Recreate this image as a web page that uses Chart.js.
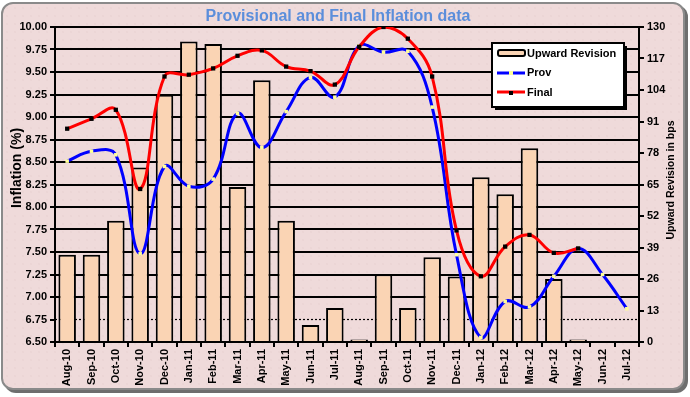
<!DOCTYPE html>
<html>
<head>
<meta charset="utf-8">
<script src="https://cdn.jsdelivr.net/npm/chart.js@4/dist/chart.umd.min.js"></script>
<style>
  html, body { margin: 0; padding: 0; background: #ffffff; }
  #wrap { position: relative; width: 690px; height: 397px; overflow: hidden; }
  #frame {
    position: absolute; left: 1px; top: 2px; width: 680px; height: 384px;
    border: 2px solid #8a8a8a; border-radius: 12px;
    background-color: #efdada;
    background-image: radial-gradient(circle, #e4cdcd 0.5px, rgba(0,0,0,0) 0.8px);
    background-size: 8px 8px;
    box-shadow: 3px 3px 0 #6e6e6e;
  }
  canvas { position: absolute; left: 0; top: 0; }
</style>
</head>
<body>
<div id="wrap">
  <div id="frame"></div>
  <canvas id="c" width="690" height="397"></canvas>
</div>
<script>
const chartTitle = 'Provisional and Final Inflation data';
const leftAxisTitle = 'Inflation (%)';
const rightAxisTitle = 'Upward Revision in bps';

const months = ['Aug-10','Sep-10','Oct-10','Nov-10','Dec-10','Jan-11','Feb-11','Mar-11','Apr-11','May-11','Jun-11','Jul-11',
                'Aug-11','Sep-11','Oct-11','Nov-11','Dec-11','Jan-12','Feb-12','Mar-12','Apr-12','May-12','Jun-12','Jul-12'];
const provValues = [8.51,8.62,8.58,7.48,8.45,8.23,8.31,9.04,8.66,9.06,9.44,9.22,
                    9.79,9.72,9.73,9.11,7.47,6.55,6.95,6.89,7.23,7.54,7.25,6.87];
const finalValues = [8.87,8.98,9.08,8.20,9.45,9.47,9.54,9.68,9.74,9.56,9.51,9.36,
                     9.78,10.00,9.87,9.45,7.74,7.23,7.56,7.69,7.49,7.54,null,null];
const revisionBps = [36,36,50,72,102,124,123,64,108,50,7,14,
                     1,28,14,35,27,68,61,80,26,1,null,null];

const seriesNames = ['Upward Revision','Prov','Final'];
const FONT = '"Liberation Sans", Arial, sans-serif';

const decorPlugin = {
  id: 'decor',
  beforeDatasetsDraw(chart) {
    const ctx = chart.ctx, y = chart.scales.y, a = chart.chartArea;
    const py = y.getPixelForValue(6.75);
    ctx.save();
    ctx.strokeStyle = '#000';
    ctx.lineWidth = 1.2;
    ctx.setLineDash([2, 2]);
    ctx.beginPath();
    ctx.moveTo(a.left, py); ctx.lineTo(a.right, py);
    ctx.stroke();
    ctx.restore();
  },
  afterDraw(chart) {
    const ctx = chart.ctx;
    ctx.save();
    // title
    ctx.fillStyle = '#5b8edb';
    ctx.font = 'bold 16px ' + FONT;
    ctx.textAlign = 'center';
    ctx.textBaseline = 'middle';
    ctx.fillText(chartTitle, 338, 17);
    // axis titles
    ctx.fillStyle = '#000';
    ctx.font = 'bold 14px ' + FONT;
    ctx.save();
    ctx.translate(17, 168);
    ctx.rotate(-Math.PI / 2);
    ctx.fillText(leftAxisTitle, 0, 0);
    ctx.restore();
    ctx.font = 'bold 10.5px ' + FONT;
    ctx.save();
    ctx.translate(671, 180);
    ctx.rotate(-Math.PI / 2);
    ctx.fillText(rightAxisTitle, 0, 0);
    ctx.restore();
    // legend
    const lx = 492, ly = 43, lw = 132, lh = 64;
    ctx.fillStyle = '#000';
    ctx.fillRect(lx + 3, ly + 3, lw, lh);
    ctx.fillStyle = '#fff';
    ctx.fillRect(lx, ly, lw, lh);
    ctx.strokeStyle = '#000';
    ctx.lineWidth = 2;
    ctx.strokeRect(lx, ly, lw, lh);
    // bar swatch
    ctx.fillStyle = '#fad4b4';
    ctx.beginPath();
    if (ctx.roundRect) ctx.roundRect(498, 50, 27, 6, 2); else ctx.rect(498, 50, 27, 6);
    ctx.fill();
    ctx.lineWidth = 2;
    ctx.stroke();
    // prov swatch
    ctx.strokeStyle = '#0000ff';
    ctx.lineWidth = 3;
    ctx.beginPath(); ctx.moveTo(497, 73); ctx.lineTo(525, 73); ctx.stroke();
    ctx.fillStyle = '#ffff99';
    ctx.fillRect(509, 71, 4, 4);
    // final swatch
    ctx.strokeStyle = '#ff0000';
    ctx.beginPath(); ctx.moveTo(497, 92); ctx.lineTo(525, 92); ctx.stroke();
    ctx.fillStyle = '#000';
    ctx.fillRect(509, 91, 4, 4);
    ctx.fillStyle = '#000';
    ctx.font = 'bold 11px ' + FONT;
    ctx.textAlign = 'left';
    ctx.textBaseline = 'middle';
    ctx.fillText(seriesNames[0], 527, 54);
    ctx.fillText(seriesNames[1], 527, 73);
    ctx.fillText(seriesNames[2], 527, 93);
    ctx.restore();
  }
};

new Chart(document.getElementById('c'), {
  type: 'bar',
  data: {
    labels: months,
    datasets: [
      {
        type: 'line', label: seriesNames[2], data: finalValues, yAxisID: 'y', order: 1,
        borderColor: '#ff0000', borderWidth: 3, tension: 0.4, fill: false,
        pointStyle: 'rect', pointRadius: 3, pointBackgroundColor: '#000', pointBorderColor: '#000', pointBorderWidth: 0,
        spanGaps: false
      },
      {
        type: 'line', label: seriesNames[1], data: provValues, yAxisID: 'y', order: 2,
        borderColor: '#0000ff', borderWidth: 3, tension: 0.4, fill: false,
        pointStyle: 'rect', pointRadius: 2.5, pointBackgroundColor: '#ffff99', pointBorderColor: '#ffff99', pointBorderWidth: 0
      },
      {
        type: 'bar', label: seriesNames[0], data: revisionBps, yAxisID: 'y1', order: 3,
        backgroundColor: '#fad4b4', borderColor: '#000', borderWidth: 2,
        categoryPercentage: 0.72, barPercentage: 1.0
      }
    ]
  },
  options: {
    responsive: false,
    animation: false,
    devicePixelRatio: 1,
    layout: { padding: { top: 27, left: 0, right: 0, bottom: 0 } },
    plugins: { legend: { display: false }, title: { display: false }, tooltip: { enabled: false } },
    scales: {
      x: {
        offset: true,
        grid: { offset: true, drawOnChartArea: false, color: '#000', lineWidth: 2, tickLength: 5 },
        border: { color: '#000', width: 2 },
        ticks: { minRotation: 90, maxRotation: 90, autoSkip: false, color: '#000', padding: 2,
                 font: { family: FONT, size: 11, weight: 'bold' } },
        afterFit(s) { s.height = 55; }
      },
      y: {
        position: 'left', min: 6.5, max: 10,
        grid: { color: (c) => (c.tick && Math.abs(c.tick.value - 6.75) < 1e-6) ? 'rgba(0,0,0,0)' : '#000',
                lineWidth: 2, tickLength: 5, tickColor: '#000' },
        border: { color: '#000', width: 2 },
        ticks: { stepSize: 0.25, color: '#000', padding: 3, callback: (v) => Number(v).toFixed(2),
                 font: { family: FONT, size: 11, weight: 'bold' } },
        afterFit(s) { s.width = 55; }
      },
      y1: {
        position: 'right', min: 0, max: 130,
        grid: { drawOnChartArea: false, color: '#000', lineWidth: 2, tickLength: 5 },
        border: { color: '#000', width: 2 },
        ticks: { stepSize: 13, color: '#000', padding: 3,
                 font: { family: FONT, size: 11, weight: 'bold' } },
        afterFit(s) { s.width = 51; }
      }
    }
  },
  plugins: [decorPlugin]
});
</script>
</body>
</html>
